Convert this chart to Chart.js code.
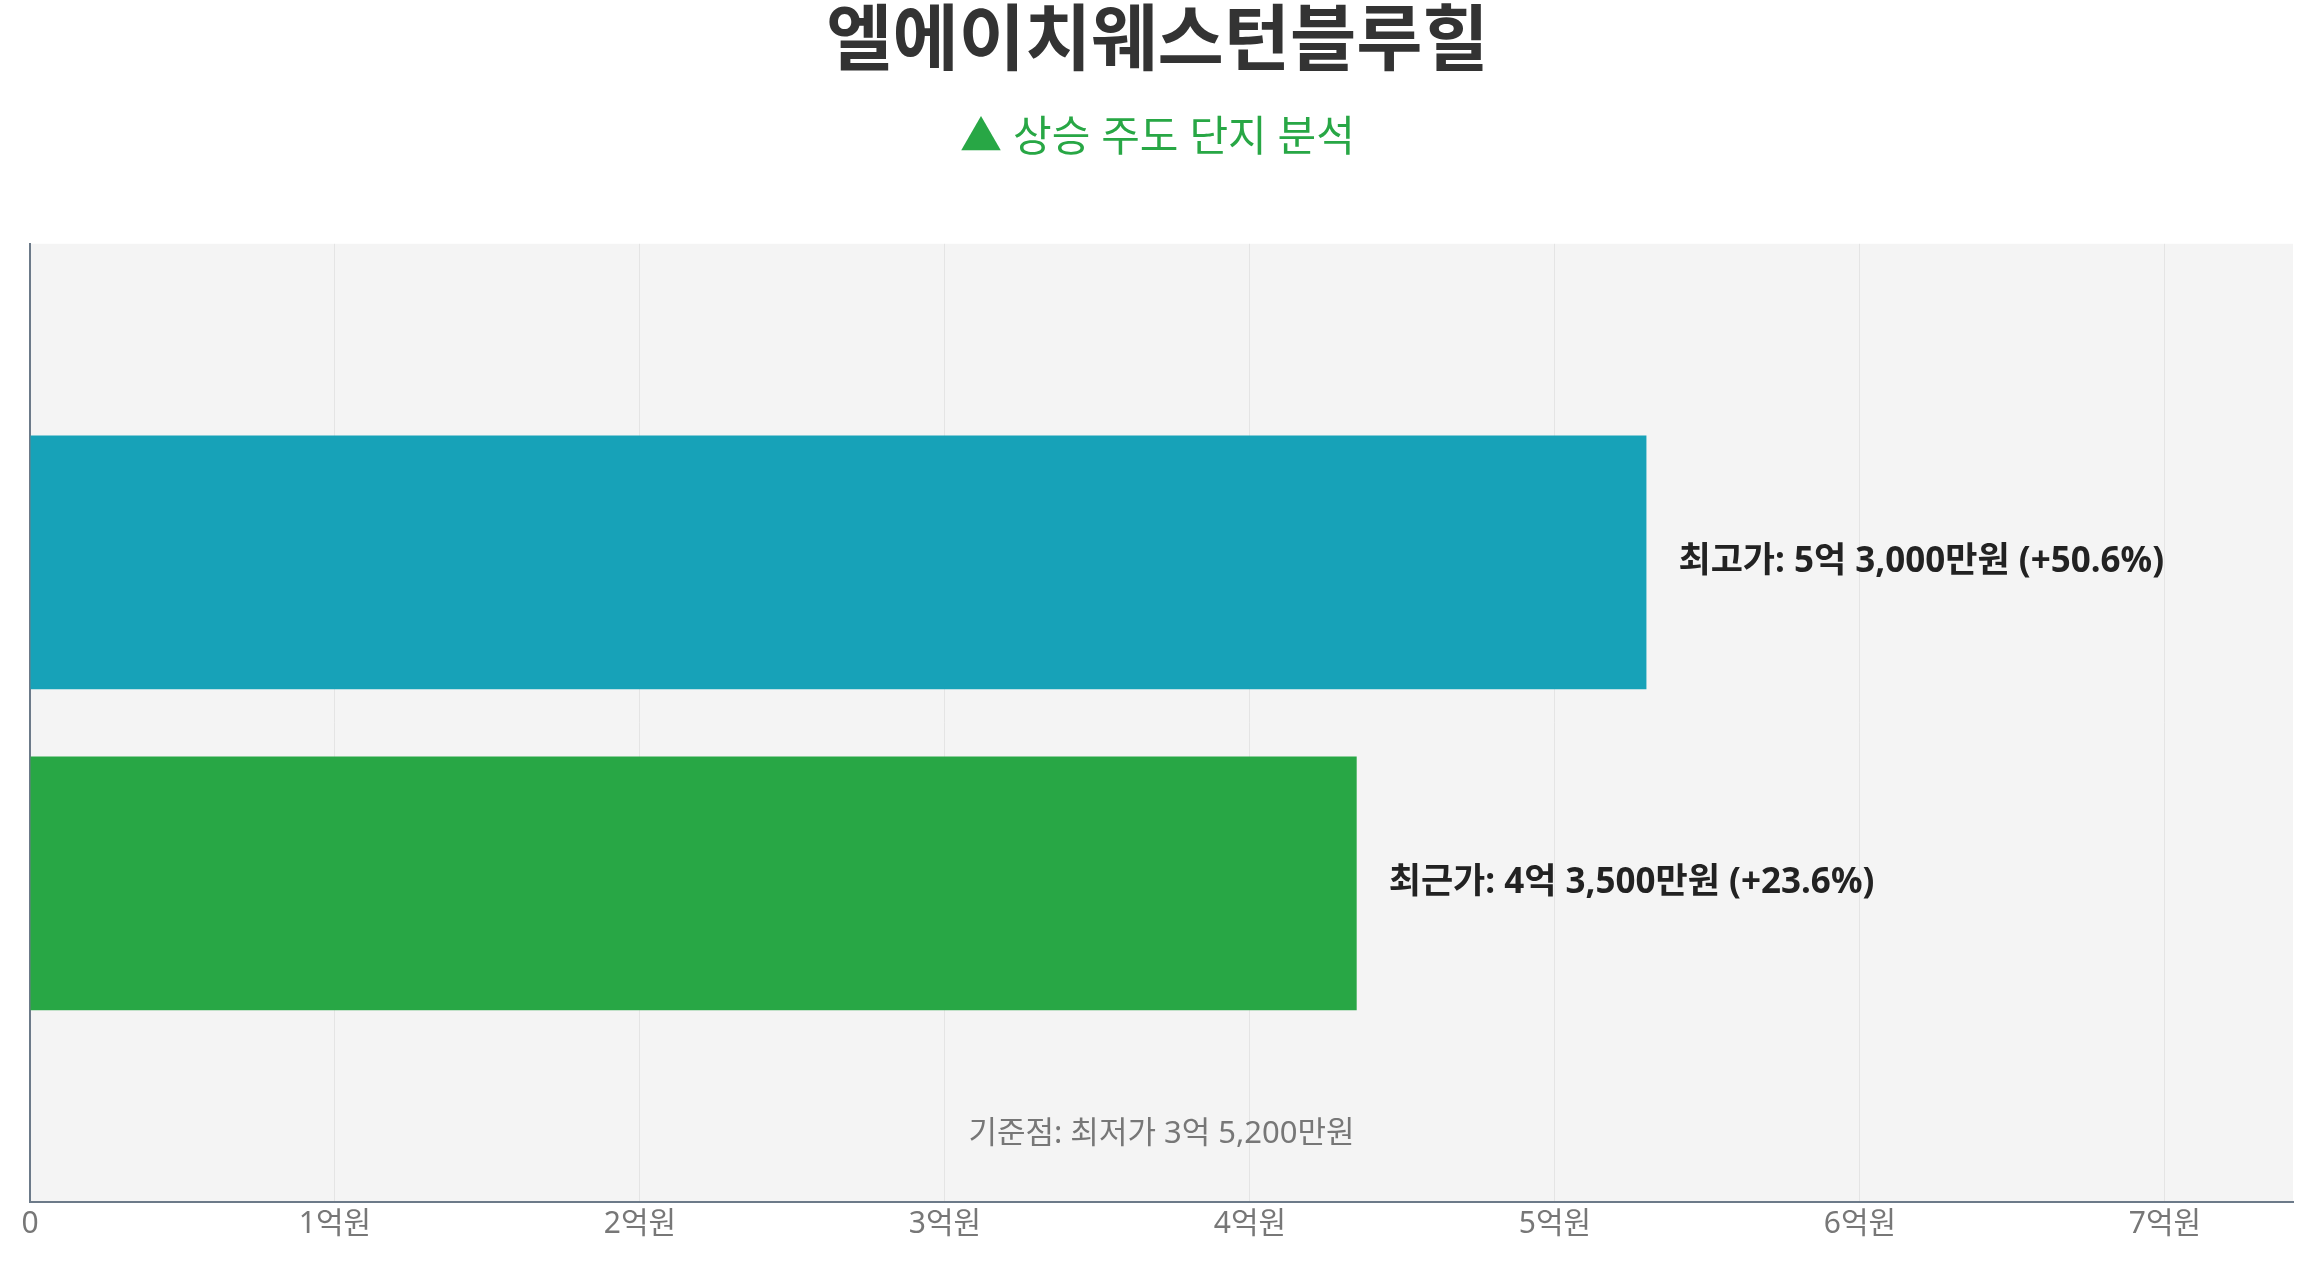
<!DOCTYPE html>
<html><head><meta charset="utf-8">
<script src="https://cdn.jsdelivr.net/npm/chart.js@4"></script>
<style>html,body{margin:0;padding:0;background:#fff}#w{width:2307px;height:1268px}</style>
</head><body><div id="w"><canvas id="c"></canvas></div>
<script>
const FONT = '"Noto Sans","Noto Sans CJK KR",sans-serif';
const categories = ['엘에이치웨스턴블루힐'];
const seriesNames = ['최고가', '최근가'];
const seriesValues = [53000, 43500]; // 만원
const seriesLabels = ['최고가: 5억 3,000만원 (+50.6%)', '최근가: 4억 3,500만원 (+23.6%)'];
const seriesColors = ['#17a2b8', '#28a745'];
const tickValues = [0, 10000, 20000, 30000, 40000, 50000, 60000, 70000];
const tickLabels = ['0', '1억원', '2억원', '3억원', '4억원', '5억원', '6억원', '7억원'];
const baseNote = '기준점: 최저가 3억 5,200만원';
const axisMax = 74200;

const bgPlugin = {
  id: 'bg',
  beforeDraw(chart) {
    const {ctx, chartArea: a} = chart;
    ctx.save(); ctx.fillStyle = '#f4f4f4';
    ctx.fillRect(a.left, a.top, a.right - a.left, a.bottom - a.top); ctx.restore();
  },
  afterDatasetsDraw(chart) {
    const {ctx, chartArea: a} = chart;
    ctx.save();
    ctx.font = 'bold 35px ' + FONT; ctx.fillStyle = '#222'; ctx.textBaseline = 'middle';
    chart.data.datasets.forEach((ds, i) => {
      const el = chart.getDatasetMeta(i).data[0];
      ctx.fillText(seriesLabels[i], el.x + 32, el.y);
    });
    ctx.font = '31px ' + FONT; ctx.fillStyle = '#777'; ctx.textAlign = 'center';
    ctx.fillText(baseNote, (a.left + a.right) / 2, a.bottom - 68);
    ctx.restore();
  }
};

new Chart(document.getElementById('c'), {
  type: 'bar',
  data: {
    labels: categories,
    datasets: seriesValues.map((v, i) => ({
      label: seriesNames[i], data: [v], backgroundColor: seriesColors[i],
      categoryPercentage: 0.67, barPercentage: 0.79
    }))
  },
  options: {
    indexAxis: 'y', responsive: true, maintainAspectRatio: false, animation: false,
    layout: {padding: {left: 22, right: 14, top: 0, bottom: 22}},
    plugins: {
      legend: {display: false}, tooltip: {enabled: false},
      title: {display: true, text: categories[0], color: '#333',
        font: {family: FONT, size: 72, weight: 'bold'}, padding: {top: 0, bottom: 27}},
      subtitle: {display: true, text: '▲ 상승 주도 단지 분석', color: '#28a745',
        font: {family: FONT, size: 42}, padding: {top: 0, bottom: 80}}
    },
    scales: {
      x: {min: 0, max: axisMax,
        afterBuildTicks: s => { s.ticks = tickValues.map(v => ({value: v})); },
        ticks: {color: '#777', font: {family: FONT, size: 30}, padding: 4,
          callback: (v, i) => tickLabels[i] ?? ''},
        grid: {color: '#e4e4e4', drawTicks: false},
        border: {color: '#6c7a89', width: 2}},
      y: {ticks: {display: false}, grid: {display: false},
        border: {color: '#6c7a89', width: 2}}
    }
  },
  plugins: [bgPlugin]
});
</script></body></html>
